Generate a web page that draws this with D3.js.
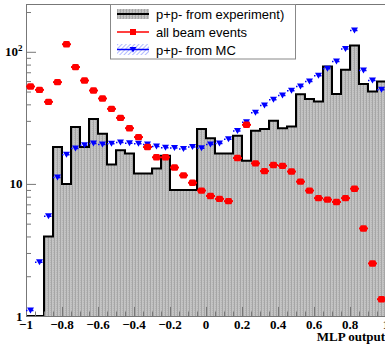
<!DOCTYPE html>
<html><head><meta charset="utf-8">
<script src="https://cdn.jsdelivr.net/npm/d3@7"></script>
<style>body{margin:0;background:#fff}svg{display:block}</style>
</head><body><svg id="c" width="385" height="348"></svg>
<script>
const binCenters = [-0.975,-0.925,-0.875,-0.825,-0.775,-0.725,-0.675,-0.625,-0.575,-0.525,
  -0.475,-0.425,-0.375,-0.325,-0.275,-0.225,-0.175,-0.125,-0.075,-0.025,
  0.025,0.075,0.125,0.175,0.225,0.275,0.325,0.375,0.425,0.475,
  0.525,0.575,0.625,0.675,0.725,0.775,0.825,0.875,0.925,0.975];
const binWidth = 0.05;
const experiment = [0,0,4.0,19,10,27,19,31,24,14,18,17,12,12,13.1,16.3,9,9,9,26,
  22.2,17,17,23.1,15,25.2,26,30,26.4,27.2,47.8,44,42,77.4,48,73,111.6,57,50,59.6];
const allBeam = [54.6,51.5,41.8,58.9,114,76.6,60.6,50.9,44.3,37.0,31.6,26.4,22.6,19.0,15.9,15.9,13.3,11.6,10.2,8.9,
  8.1,7.7,7.4,15.7,28.0,14.3,12.5,13.9,13.7,12.4,10.4,8.9,7.8,7.6,7.3,7.8,9.2,4.6,2.5,1.34];
const mc = [1.10,2.55,5.7,11.2,16.6,18.5,19.6,20.2,19.9,20.1,20.6,20.3,20.1,19.9,19.2,18.8,18.7,18.4,19.0,18.6,
  19.9,20.2,21.8,25.1,29.3,34.5,39.2,43.3,46.7,50.7,54.6,59.6,65.8,74.3,84.5,104.8,145,72.2,60.6,51.5];
const xMajorTicks = [-1,-0.8,-0.6,-0.4,-0.2,0,0.2,0.4,0.6,0.8,1];
const xTickLabels = ["\u22121","\u22120.8","\u22120.6","\u22120.4","\u22120.2","0","0.2","0.4","0.6","0.8","1"];
const yMajorTicks = [1,10,100];
const yMinorTicks = [2,3,4,5,6,7,8,9,20,30,40,50,60,70,80,90,200];
const legendLabels = ["p+p- from experiment)","all beam events","p+p- from MC"];
const xTitle = "MLP output";

const svg = d3.select("#c");
const x = d3.scaleLinear().domain([-1,1]).range([26,386]);
const y = d3.scaleLog().domain([1,230]).range([316,4]);
const yc = v => y(Math.max(v,1));
const axisCol = "#777";

const defs = svg.append("defs");
const pg = defs.append("pattern").attr("id","grey").attr("patternUnits","userSpaceOnUse")
  .attr("width",3).attr("height",2);
pg.append("rect").attr("width",3).attr("height",2).attr("fill","#c4c4c4");
pg.append("rect").attr("x",0).attr("width",1).attr("height",2).attr("fill","#a6a6a6");
pg.append("rect").attr("x",2).attr("y",0).attr("width",1).attr("height",1).attr("fill","#b6b6b6");
const pb = defs.append("pattern").attr("id","bluehatch").attr("patternUnits","userSpaceOnUse")
  .attr("width",3).attr("height",3).attr("patternTransform","rotate(45)");
pb.append("rect").attr("width",3).attr("height",3).attr("fill","#fff");
pb.append("line").attr("x1",0).attr("y1",0).attr("x2",0).attr("y2",3).attr("stroke","#7b8bff").attr("stroke-width",1.2);

// histogram
const pts = [];
experiment.forEach((v,i)=>{ pts.push([binCenters[i]-binWidth/2, v]); pts.push([binCenters[i]+binWidth/2, v]); });
svg.append("path").datum(pts)
  .attr("d", d3.area().x(d=>x(d[0])).y0(y(1)).y1(d=>yc(d[1])))
  .attr("fill","url(#grey)");
svg.append("path").datum([[-1,0]].concat(pts))
  .attr("d", d3.line().x(d=>x(d[0])).y(d=>yc(d[1])))
  .attr("fill","none").attr("stroke","#000").attr("stroke-width",2);

// axes
const xMinor = d3.range(-1,1.0001,0.05).filter(t=>Math.abs(Math.round(t*5)-t*5)>1e-6);
svg.append("g").attr("transform","translate(0,316)")
  .call(d3.axisBottom(x).tickValues(xMinor).tickSize(-4.5).tickFormat(""))
  .call(g=>{g.select(".domain").remove(); g.selectAll("line").attr("stroke",axisCol);});
svg.append("g").attr("transform","translate(0,316)")
  .call(d3.axisBottom(x).tickValues(xMajorTicks).tickSize(-9).tickFormat(""))
  .call(g=>{g.select(".domain").attr("stroke",axisCol); g.selectAll("line").attr("stroke",axisCol);});
svg.append("g").attr("transform","translate(26,0)")
  .call(d3.axisLeft(y).tickValues(yMinorTicks).tickSize(-5).tickFormat(""))
  .call(g=>{g.select(".domain").remove(); g.selectAll("line").attr("stroke",axisCol);});
svg.append("g").attr("transform","translate(26,0)")
  .call(d3.axisLeft(y).tickValues(yMajorTicks).tickSize(-10).tickFormat(""))
  .call(g=>{g.select(".domain").attr("stroke",axisCol); g.selectAll("line").attr("stroke",axisCol);});
svg.append("line").attr("x1",26).attr("x2",385).attr("y1",y(230)+0.5).attr("y2",y(230)+0.5).attr("stroke",axisCol);

const serif = "'Liberation Serif','Times New Roman',serif";
svg.append("g").selectAll("text").data(xMajorTicks).join("text")
  .attr("x",d=>x(d)).attr("y",329).attr("text-anchor","middle")
  .attr("font-family",serif).attr("font-weight","bold").attr("font-size",13)
  .text((d,i)=>xTickLabels[i]);
const yl = svg.append("g").attr("font-family",serif).attr("font-weight","bold").attr("font-size",13).attr("text-anchor","end");
yl.append("text").attr("x",22.5).attr("y",y(1)+4.5).text("1");
yl.append("text").attr("x",22.5).attr("y",y(10)+4.5).text("10");
const t2 = yl.append("text").attr("x",22.5).attr("y",y(100)+4.5);
t2.append("tspan").text("10");
t2.append("tspan").attr("font-size",9).attr("dy",-5).text("2");
svg.append("text").attr("x",385).attr("y",341).attr("text-anchor","end")
  .attr("font-family",serif).attr("font-weight","bold").attr("font-size",13).text(xTitle);

// MC series
const gb = svg.append("g");
mc.forEach((v,i)=>{
  const cx = x(binCenters[i]), cy = y(v);
  gb.append("line").attr("x1",x(binCenters[i]-binWidth/2)).attr("x2",x(binCenters[i]+binWidth/2))
    .attr("y1",cy).attr("y2",cy).attr("stroke","#0000ff").attr("stroke-width",1.5).attr("stroke-dasharray","1.5,1.5");
  gb.append("path").attr("d",`M${cx-3.5},${cy-3}L${cx+3.5},${cy-3}L${cx},${cy+3}Z`).attr("fill","#0000ff");
});
// all beam series
const gr = svg.append("g");
allBeam.forEach((v,i)=>{
  const cx = x(binCenters[i]), cy = y(v);
  gr.append("line").attr("x1",x(binCenters[i]-binWidth/2)).attr("x2",x(binCenters[i]+binWidth/2))
    .attr("y1",cy).attr("y2",cy).attr("stroke","#ff0000").attr("stroke-width",2);
  gr.append("rect").attr("x",cx-3.5).attr("y",cy-3.2).attr("width",7).attr("height",6.4).attr("rx",1.5)
    .attr("fill","#ff0000");
});

// legend
const lg = svg.append("g");
lg.append("rect").attr("x",110.5).attr("y",4.5).attr("width",185).attr("height",54.5)
  .attr("fill","#fff").attr("stroke","#888");
lg.append("rect").attr("x",117).attr("y",9).attr("width",32).attr("height",10).attr("fill","url(#grey)");
lg.append("line").attr("x1",117).attr("x2",149).attr("y1",14).attr("y2",14).attr("stroke","#000").attr("stroke-width",2);
lg.append("line").attr("x1",117).attr("x2",149).attr("y1",32).attr("y2",32).attr("stroke","#ff0000").attr("stroke-width",1.5);
lg.append("rect").attr("x",130).attr("y",29).attr("width",6).attr("height",6).attr("fill","#ff0000");
lg.append("rect").attr("x",117).attr("y",44).attr("width",32).attr("height",11).attr("fill","url(#bluehatch)");
lg.append("line").attr("x1",117).attr("x2",149).attr("y1",49.5).attr("y2",49.5).attr("stroke","#0000ff").attr("stroke-width",1.5);
lg.append("path").attr("d","M129.5,47L136.5,47L133,52.5Z").attr("fill","#0000ff");
lg.selectAll("text.l").data(legendLabels).join("text").attr("class","l")
  .attr("x",156).attr("y",(d,i)=>18.5+i*18)
  .attr("font-family","'Liberation Sans',Arial,sans-serif").attr("font-size",13).attr("fill","#000")
  .text(d=>d);
</script></body></html>
